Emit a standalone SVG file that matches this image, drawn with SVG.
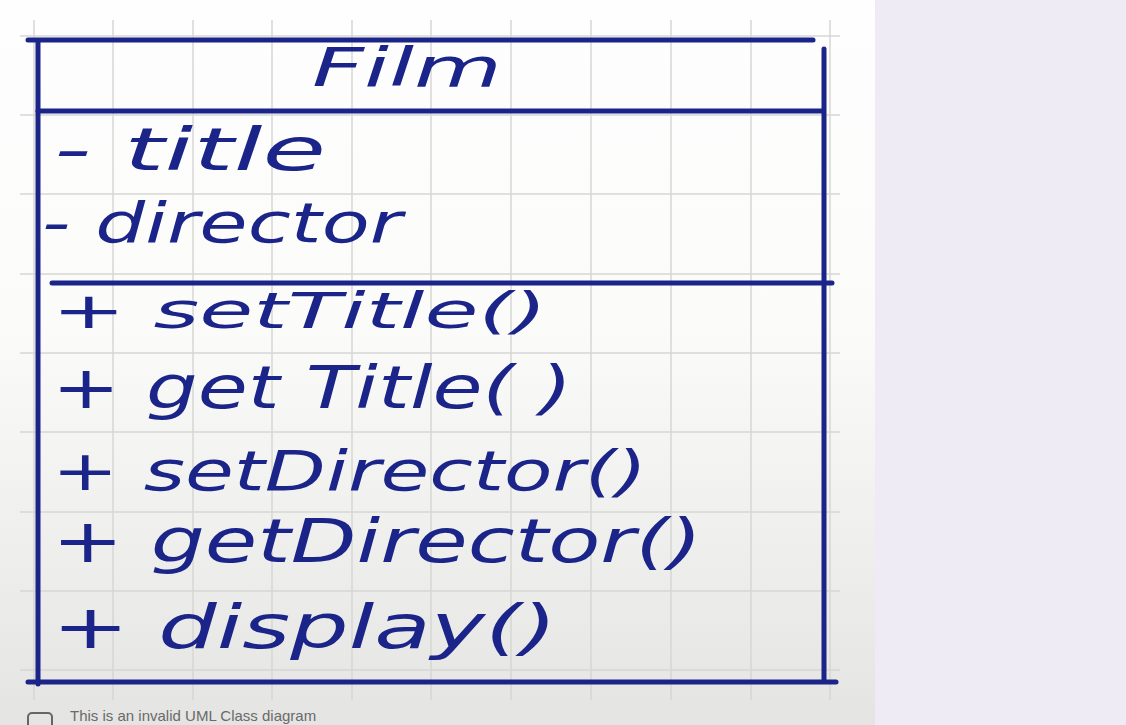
<svg xmlns="http://www.w3.org/2000/svg" width="1126" height="725" viewBox="0 0 1126 725">
<defs>
<linearGradient id="paper" x1="0" y1="0" x2="0" y2="1">
<stop offset="0" stop-color="#fefefe"/>
<stop offset="0.45" stop-color="#fbfbfa"/>
<stop offset="1" stop-color="#e4e4e2"/>
</linearGradient>
</defs>
<style>
.grid{stroke:#d6d6d4;stroke-width:1.5}
.pen{stroke:#1b2488;stroke-width:5;stroke-linecap:round;fill:none}
.hw{font-family:"DejaVu Sans",sans-serif;font-style:oblique;fill:#1b2488}
.note{font-family:"Liberation Sans",Arial,sans-serif;font-size:15px;fill:#6a6a6a}
</style>
<rect x="0" y="0" width="875" height="725" fill="url(#paper)"/>
<rect x="875" y="0" width="251" height="725" fill="#efebf5"/>
<g id="grid">
<path class="grid" d="M34 20V700M113 20V700M193 20V700M272 20V700M352 20V700M431 20V700M511 20V700M591 20V700M671 20V700M751 20V700M830 20V700"/>
<path class="grid" d="M20 36H840M20 115H840M20 194H840M20 274H840M20 353H840M20 432H840M20 512H840M20 591H840M20 670H840"/>
</g>
<g id="class-Film">
<path class="pen" d="M28 40H813"/>
<path class="pen" d="M38 42V684"/>
<path class="pen" d="M824 49V681"/>
<path class="pen" d="M38 111H822"/>
<path class="pen" d="M52 283H832"/>
<path class="pen" d="M28 682H836"/>
<text class="hw" x="312" y="86" textLength="190" lengthAdjust="spacingAndGlyphs" font-size="54">Film</text>
<text class="hw" x="54" y="170" textLength="272" lengthAdjust="spacingAndGlyphs" font-size="58">- title</text>
<text class="hw" x="42" y="242" textLength="360" lengthAdjust="spacingAndGlyphs" font-size="56">- director</text>
<text class="hw" x="52" y="328" textLength="495" lengthAdjust="spacingAndGlyphs" font-size="50">+ setTitle()</text>
<text class="hw" x="52" y="408" textLength="520" lengthAdjust="spacingAndGlyphs" font-size="58">+ get Title( )</text>
<text class="hw" x="52" y="490" textLength="595" lengthAdjust="spacingAndGlyphs" font-size="56">+ setDirector()</text>
<text class="hw" x="52" y="562" textLength="650" lengthAdjust="spacingAndGlyphs" font-size="60">+ getDirector()</text>
<text class="hw" x="52" y="648" textLength="505" lengthAdjust="spacingAndGlyphs" font-size="60">+ display()</text>
</g>
<g id="note">
<rect x="28" y="713" width="24" height="20" rx="4" fill="none" stroke="#666" stroke-width="2"/>
<text class="note" x="70" y="721">This is an invalid UML Class diagram</text>
</g>
</svg>
